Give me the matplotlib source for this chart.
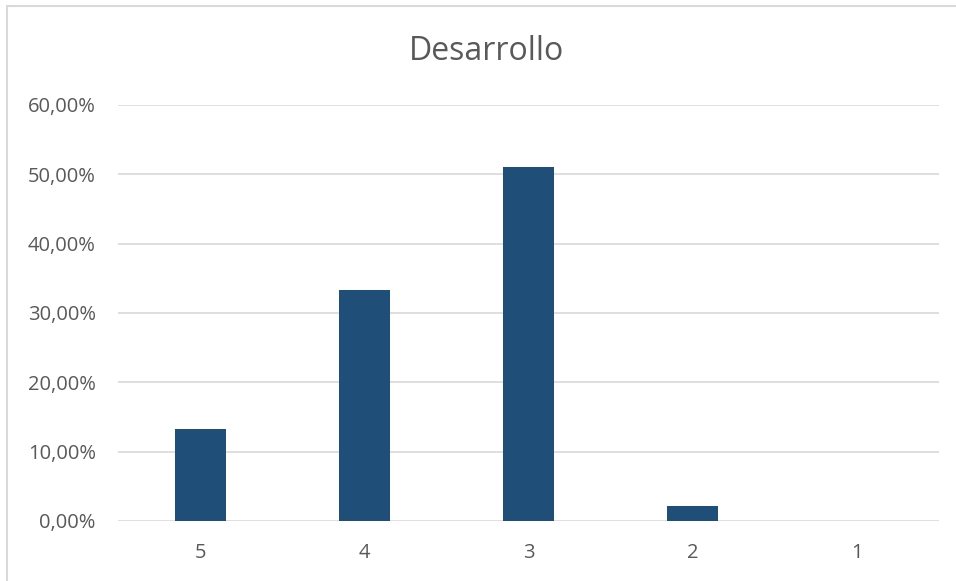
import matplotlib
matplotlib.use("Agg")
import matplotlib.pyplot as plt
from matplotlib.patches import Rectangle
from matplotlib.ticker import FuncFormatter

# data (share of answers per score)
categories = ["5", "4", "3", "2", "1"]
values = [13.33, 33.33, 51.11, 2.22, 0.0]
yticks = [0, 10, 20, 30, 40, 50, 60]

plt.rcParams["font.family"] = ["Open Sans", "DejaVu Sans"]
text_color = "#595959"

fig = plt.figure(figsize=(9.56, 5.81), dpi=100)
ax = fig.add_axes([0.1234, 0.1033, 0.8588, 0.716])

x = range(len(categories))
ax.bar(x, values, width=0.31, color="#1F4E79", zorder=3)

ax.set_xlim(-0.5, len(categories) - 0.5)
ax.set_ylim(0, 60)
ax.set_yticks(yticks)
ax.yaxis.set_major_formatter(FuncFormatter(lambda v, p: f"{v:.2f}%".replace(".", ",")))
ax.set_xticks(list(x))
ax.set_xticklabels(categories)

ax.grid(axis="y", color="#D9D9D9", linewidth=1.2, zorder=0)
for s in ax.spines.values():
    s.set_visible(False)
ax.tick_params(axis="both", length=0, labelsize=14.5, colors=text_color)
ax.tick_params(axis="y", pad=16)
ax.tick_params(axis="x", pad=16)

fig.text(0.509, 0.912, "Desarrollo", ha="center", va="center", fontsize=23, color=text_color)

# chart border
fig.patches.append(Rectangle((7 / 956, -0.01), 1.0, 1 - 6.5 / 581 + 0.01, transform=fig.transFigure,
                             fill=False, edgecolor="#D9D9D9", linewidth=1.5))

fig.savefig("out.png", dpi=100)
